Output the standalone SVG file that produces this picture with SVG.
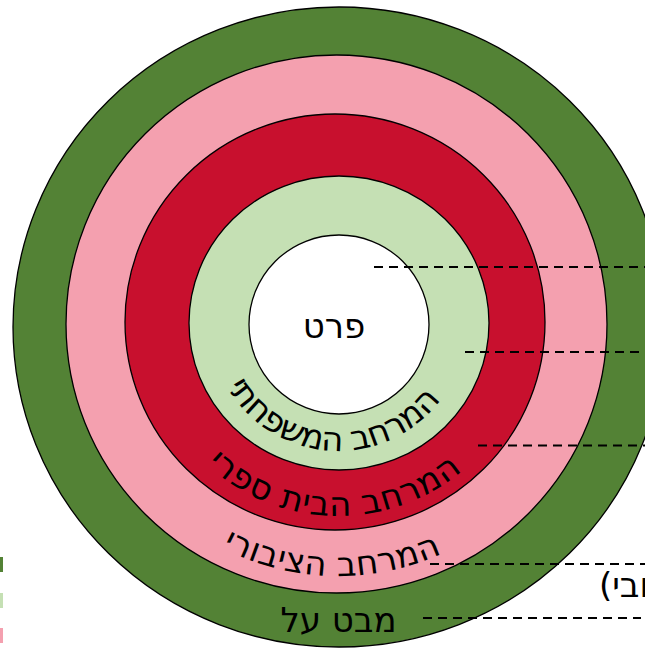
<svg xmlns="http://www.w3.org/2000/svg" width="645" height="648" viewBox="0 0 645 648">
<style>
.ring{stroke:#000;stroke-width:1.3}
.lbl{font-family:"DejaVu Sans","Open Sans",sans-serif;font-size:34px;fill:#000}
.dash{stroke:#000;stroke-width:2;stroke-dasharray:9 6;fill:none}
</style>
<defs>
<path id="arc1" d="M210.04,326.35 A128,128 0 0 0 464.59,341.92"/>
<path id="arc2" d="M145.36,334.78 A193,193 0 0 0 529.76,344.85"/>
<path id="arc3" d="M85.47,338.45 A253,253 0 0 0 589.37,351.64"/>
</defs>
<g id="legend">
<rect x="-12" y="557" width="15" height="15" fill="#538235"/>
<rect x="-12" y="593" width="15" height="15" fill="#C5E0B4"/>
<rect x="-12" y="628" width="15" height="15" fill="#F4A0AF"/>
</g>
<g id="ring-overview">
<ellipse class="ring" cx="339" cy="327" rx="326" ry="320" fill="#538235"/>
<text class="lbl" x="338.5" y="632" text-anchor="middle">מבט על</text>
</g>
<g id="ring-public">
<ellipse class="ring" cx="336.5" cy="324" rx="270.5" ry="269" fill="#F4A0AF"/>
<text class="lbl"><textPath href="#arc3" startOffset="50%" text-anchor="middle" textLength="228" lengthAdjust="spacing">המרחב הציבורי</textPath></text>
</g>
<g id="ring-school">
<ellipse class="ring" cx="335" cy="322" rx="210" ry="208" fill="#C8102E"/>
<text class="lbl"><textPath href="#arc2" startOffset="50%" text-anchor="middle" textLength="280" lengthAdjust="spacing">המרחב הבית ספרי</textPath></text>
</g>
<g id="ring-family">
<ellipse class="ring" cx="339" cy="323" rx="150" ry="147" fill="#C5E0B4"/>
<text class="lbl"><textPath href="#arc1" startOffset="50%" text-anchor="middle" textLength="254" lengthAdjust="spacing">המרחב המשפחתי</textPath></text>
</g>
<g id="detail">
<ellipse class="ring" cx="339" cy="324.5" rx="90" ry="89.5" fill="#FFFFFF"/>
<text class="lbl" x="334" y="338" text-anchor="middle" font-size="35">פרט</text>
</g>
<g id="connectors">
<line class="dash" x1="374" y1="267" x2="650" y2="267"/>
<line class="dash" x1="465" y1="352" x2="650" y2="352"/>
<line class="dash" x1="478" y1="445.5" x2="650" y2="445.5"/>
<line class="dash" x1="430" y1="564" x2="650" y2="564"/>
<line class="dash" x1="423" y1="618" x2="641" y2="618"/>
</g>
<text class="lbl" x="599" y="597" font-size="18">(שובי</text>
</svg>
